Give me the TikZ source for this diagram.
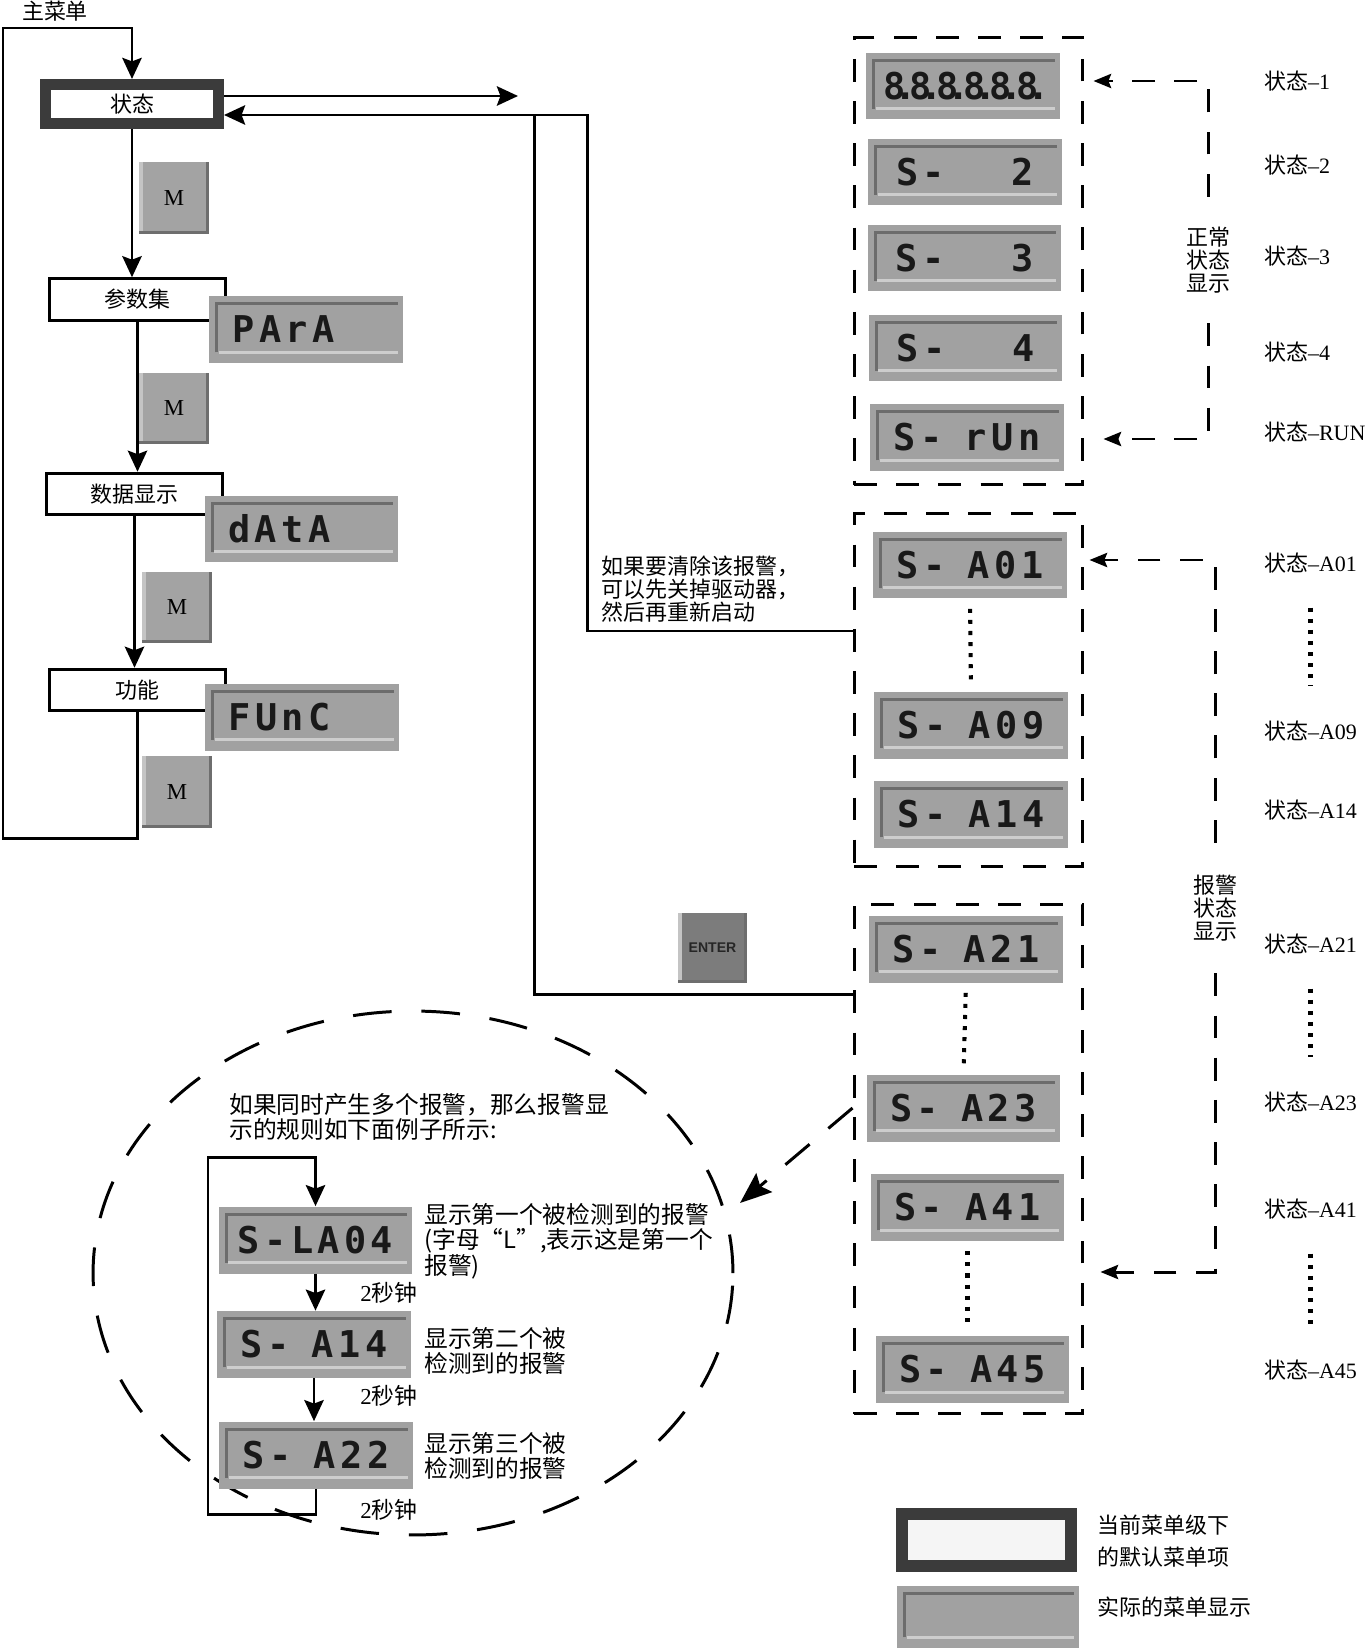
\documentclass[tikz,border=0pt]{standalone}
\usepackage{fontspec}
\setmainfont{Liberation Serif}
\newfontfamily\cjk{Noto Sans CJK SC}
\newfontfamily\lcdfont[LetterSpace=12]{DejaVu Sans Mono}
\newfontfamily\keyfont{Liberation Sans}
\usetikzlibrary{arrows.meta,shapes.geometric}

\definecolor{lcdgray}{HTML}{A1A1A1}
\definecolor{lcddark}{HTML}{6C6C6C}
\definecolor{lcdlight}{HTML}{CDCDCD}
\definecolor{keygray}{HTML}{A3A3A3}
\definecolor{keylight}{HTML}{C4C4C4}
\definecolor{keydark}{HTML}{6E6E6E}
\definecolor{entergray}{HTML}{7C7C7C}
\definecolor{boxdark}{HTML}{3B3B3B}

\newcommand\bl{\phantom{0}}
\newcommand\eightdot{8\rlap{\kern-.3em.}\kern.12em}

\tikzset{
  lcd/.style={fill=lcdgray, minimum width=3.88cm, minimum height=1.34cm, inner sep=0pt,
    font=\lcdfont\bfseries\fontsize{21}{21}\selectfont, text=black!90,
    path picture={
      \draw[lcddark, line width=1.7pt]
        ([xshift=4.5pt, yshift=6pt]path picture bounding box.south west)
        |- ([xshift=-3pt, yshift=-4.5pt]path picture bounding box.north east);
      \draw[lcdlight, line width=1.7pt]
        ([xshift=5.5pt, yshift=6pt]path picture bounding box.south west)
        -- ([xshift=-3pt, yshift=6pt]path picture bounding box.south east);
    }},
  key/.style={fill=keygray, minimum width=1.4cm, minimum height=1.44cm, inner sep=0pt,
    font=\fontsize{13}{13}\selectfont,
    path picture={
      \draw[keylight, line width=2pt]
        ([xshift=1pt]path picture bounding box.south west)
        -- ([xshift=1pt]path picture bounding box.north west);
      \draw[keydark, line width=1.8pt]
        ([yshift=.9pt]path picture bounding box.south west)
        -- ([yshift=.9pt]path picture bounding box.south east);
      \draw[keydark, line width=1.8pt]
        ([xshift=-.9pt]path picture bounding box.south east)
        -- ([xshift=-.9pt]path picture bounding box.north east);
    }},
  menu/.style={draw, line width=1.7pt, fill=white, minimum width=3.54cm, minimum height=0.83cm,
    inner sep=0pt, font=\cjk\fontsize{12.5}{14}\selectfont},
  curmenu/.style={menu, draw=boxdark, line width=6.3pt, minimum width=3.46cm, minimum height=0.78cm},
  grp/.style={draw, line width=1.7pt, dash pattern=on 13pt off 11pt, minimum width=4.58cm, inner sep=0pt},
  note/.style={align=left, inner sep=0pt, font=\cjk\fontsize{12.5}{13}\selectfont},
  slab/.style={anchor=west, inner sep=1pt, font=\fontsize{12.5}{14}\selectfont},
  brlbl/.style={align=center, inner sep=0pt, font=\cjk\fontsize{12.5}{13}\selectfont},
  arr/.style={line width=1.7pt, -{Stealth[length=12pt, width=11pt, inset=2pt]}},
  line/.style={line width=1.7pt},
  darr/.style={line width=1.7pt, dash pattern=on 13pt off 11pt, -{Stealth[length=10pt, width=8pt, inset=1.5pt]}},
  dots/.style={line width=2.3pt, dash pattern=on 2.3pt off 4pt, shorten <=0.2cm, shorten >=0.2cm},
}

\begin{document}
\begin{tikzpicture}[x=0.02cm, y=-0.02cm]
\useasboundingbox (0,0) rectangle (1367,1649);

\node[note] (mainlbl) at (55,11) {主菜单};

\node[curmenu] (status) at (132,104) {状态};
\node[key] (kM1) at (174,198) {M};
\node[menu] (para) at (137.5,299.5) {参数集};
\node[lcd] (dPara) at (306,329.5) {PArA\bl\bl};
\node[key] (kM2) at (174,408.5) {M};
\node[menu] (data) at (134.5,494) {数据显示};
\node[lcd] (dData) at (301.5,529) {dAtA\bl\bl};
\node[key] (kM3) at (177,607.5) {M};
\node[menu] (func) at (137.5,690) {功能};
\node[lcd] (dFunc) at (302,717) {FUnC\bl\bl};
\node[key] (kM4) at (177,792) {M};

\coordinate (mainBL) at (3,838);
\coordinate (mainTL) at (3,28);
\draw[arr] (status.south) -- (status.south |- para.north);
\draw[arr] (para.south) -- (para.south |- data.north);
\draw[arr] (data.south) -- (data.south |- func.north);
\draw[arr] (func.south) |- (mainBL) -- (mainTL) -| (status.north);

\node[grp, minimum height=8.96cm] (grpN) at (968.5,261) {};
\node[lcd] (dN1) at (963,86) {\eightdot\eightdot\eightdot\eightdot\eightdot\eightdot};
\node[lcd] (dN2) at (965,172) {S-\bl\bl\bl 2};
\node[lcd] (dN3) at (964.5,258) {S-\bl\bl\bl 3};
\node[lcd] (dN4) at (965.5,348) {S-\bl\bl\bl 4};
\node[lcd] (dN5) at (967,437.5) {S-\bl rUn};

\node[grp, minimum height=7.08cm] (grpA1) at (968.5,690) {};
\node[grp, minimum height=10.2cm] (grpA2) at (968.5,1159) {};
\foreach \code/\x/\y in {A01/970/565, A09/971/725, A14/971/814.5, A21/966/949,
                         A23/963.5/1108, A41/967.5/1207.5, A45/972.5/1369.5}
  \node[lcd] (d\code) at (\x,\y) {S-\bl\code};
\draw[dots] (dA01.south) -- (dA09.north);
\draw[dots] (dA21.south) -- (dA23.north);
\draw[dots] (dA41.south) -- (dA41.south |- dA45.north);

\foreach \code/\y [count=\i] in {1/81, 2/165, 3/256, 4/352, RUN/432}
  \node[slab] (lN\i) at (1262,\y) {{\cjk 状态}–\code};
\foreach \code/\y in {A01/563, A09/731, A14/810, A21/944, A23/1102, A41/1209, A45/1370}
  \node[slab] (l\code) at (1262,\y) {{\cjk 状态}–\code};
\draw[dots, shorten <=0.65cm, shorten >=0.65cm] (lA01.south) -- (lA01.south |- lA09.north);
\draw[dots, shorten <=0.65cm, shorten >=0.65cm] (lA21.south) -- (lA21.south |- lA23.north);
\draw[dots, shorten <=0.65cm, shorten >=0.65cm] (lA41.south) -- (lA41.south |- lA45.north);

\node[brlbl, minimum height=2.52cm] (nlbl) at (1208,260) {正常\\状态\\显示};
\node[brlbl, minimum height=2.6cm] (albl) at (1215,908) {报警\\状态\\显示};
\coordinate (nT) at (1208,81);
\coordinate (nB) at (1208,439);
\coordinate (aT) at (1215,560);
\coordinate (aB) at (1215,1272);
\draw[darr, shorten >=0.18cm] (nlbl.north) -- (nT) -- (grpN.east |- nT);
\draw[darr, shorten >=0.38cm] (nlbl.south) -- (nB) -- (grpN.east |- nB);
\draw[darr, shorten >=0.1cm] (albl.north) -- (aT) -- (grpA1.east |- aT);
\draw[darr, shorten >=0.32cm] (albl.south) -- (aB) -- (grpA2.east |- aB);

\coordinate (outEnd) at (518,96);
\coordinate (retA) at (587,115);
\coordinate (clrA) at (587,631);
\coordinate (retB) at (534,115);
\coordinate (entA) at (534,994);
\draw[arr] (status.east |- outEnd) -- (outEnd);
\draw[arr] (grpA1.west |- clrA) -- (clrA) -- (retA) -- (status.east |- retA);
\draw[line] (grpA2.west |- entA) -- (entA) -- (retB);

\node[note, anchor=west] (clrnote) at (601,589) {如果要清除该报警，\\可以先关掉驱动器，\\然后再重新启动};
\node[key, fill=entergray, minimum width=1.38cm, minimum height=1.4cm,
  font=\keyfont\bfseries\fontsize{8}{8}\selectfont, text=black!85] (kEnter) at (712.5,948) {ENTER};

\node[draw, ellipse, line width=1.7pt, dash pattern=on 22pt off 17pt, inner sep=0pt,
  minimum width=12.8cm, minimum height=10.48cm] (rule) at (413,1273) {};
\coordinate (ruleTip) at (740,1203);
\draw[line width=1.7pt, dash pattern=on 18pt off 14pt, -{Stealth[length=18pt, width=14pt, inset=3pt]}]
  (grpA2.west |- dA23) -- (ruleTip);

\node[note, anchor=west, font=\cjk\fontsize{13.5}{14.5}\selectfont] (ruletxt) at (229,1117)
  {如果同时产生多个报警，那么报警显\\示的规则如下面例子所示:};
\node[lcd] (dL04) at (315.5,1240) {S-LA04};
\node[lcd] (dB14) at (314,1344.5) {S-\bl A14};
\node[lcd] (dB22) at (316,1455) {S-\bl A22};
\coordinate (loopBL) at (208,1514);
\coordinate (loopTL) at (208,1157);
\draw[arr] (dB22.south) |- (loopBL) -- (loopTL) -| (dL04.north);
\draw[arr] (dL04.south) -- (dL04.south |- dB14.north);
\draw[arr] (dB14.south) -- (dB14.south |- dB22.north);
\foreach \y [count=\i] in {1293, 1396, 1510}
  \node[anchor=west, inner sep=0pt, font=\fontsize{13}{13}\selectfont] (sec\i) at (360,\y) {2{\cjk 秒钟}};
\node[note, anchor=west, font=\cjk\fontsize{13.5}{14.5}\selectfont] (desc1) at (424,1241)
  {显示第一个被检测到的报警\\(字母“L”,表示这是第一个\\报警)};
\node[note, anchor=west, font=\cjk\fontsize{13.5}{14.5}\selectfont] (desc2) at (424,1351)
  {显示第二个被\\检测到的报警};
\node[note, anchor=west, font=\cjk\fontsize{13.5}{14.5}\selectfont] (desc3) at (424,1456)
  {显示第三个被\\检测到的报警};

\node[curmenu, fill=black!4, line width=6.8pt, minimum width=3.38cm, minimum height=1.04cm] (legCur) at (986.5,1540) {};
\node[note, anchor=west, font=\cjk\fontsize{12.5}{18}\selectfont] (legCurTxt) at (1097,1541) {当前菜单级下\\的默认菜单项};
\node[lcd, minimum width=3.64cm, minimum height=1.24cm] (legLcd) at (988,1617) {};
\node[note, anchor=west] (legLcdTxt) at (1097,1607) {实际的菜单显示};
\end{tikzpicture}
\end{document}
